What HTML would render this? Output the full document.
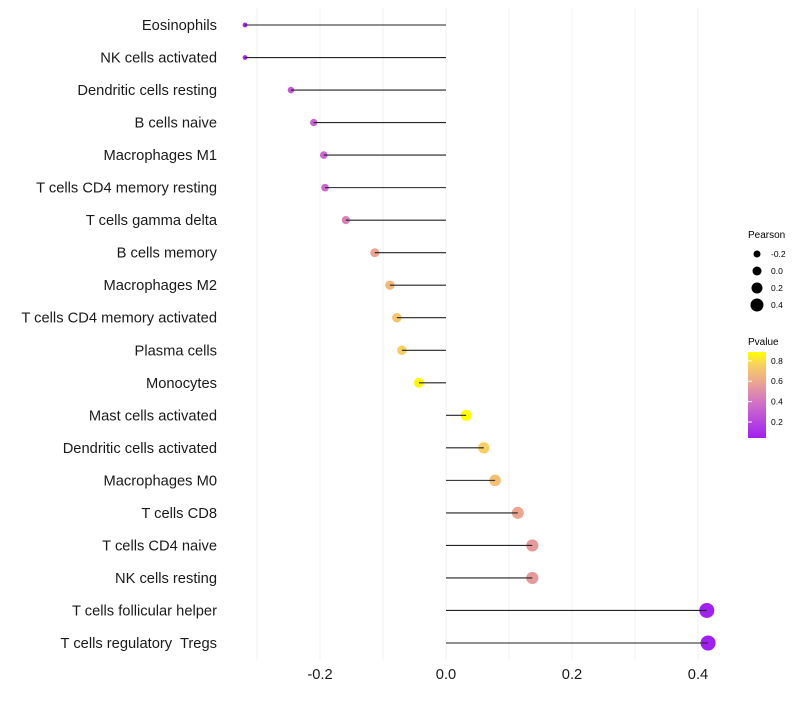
<!DOCTYPE html>
<html><head><meta charset="utf-8"><style>
body{margin:0;background:#fff;font-family:"Liberation Sans",sans-serif}
svg text{font-family:"Liberation Sans",sans-serif;white-space:pre}
</style></head><body>
<svg id="chart" width="800" height="700">
<defs><linearGradient id="pg" x1="0" y1="1" x2="0" y2="0">
<stop offset="0" stop-color="#A020F0"/><stop offset="0.4" stop-color="#D070C8"/><stop offset="0.65" stop-color="#EBA590"/><stop offset="0.85" stop-color="#F7D060"/><stop offset="1" stop-color="#FFFF00"/></linearGradient></defs>
<g id="grid"></g>
<g id="marks"></g>
<g id="labels"></g>
<g id="xt"></g>
<g id="lp">
<text x="748" y="238" font-size="10">Pearson</text></g>
<g id="lv">
<text x="748" y="345" font-size="10">Pvalue</text>
<rect x="748" y="352" width="18" height="86" fill="url(#pg)"/></g>
</svg>
<script>
const categories=["Eosinophils","NK cells activated","Dendritic cells resting","B cells naive","Macrophages M1","T cells CD4 memory resting","T cells gamma delta","B cells memory","Macrophages M2","T cells CD4 memory activated","Plasma cells","Monocytes","Mast cells activated","Dendritic cells activated","Macrophages M0","T cells CD8","T cells CD4 naive","NK cells resting","T cells follicular helper","T cells regulatory  Tregs"];
const pearson=[-0.319,-0.319,-0.246,-0.210,-0.194,-0.192,-0.159,-0.113,-0.089,-0.078,-0.070,-0.043,0.032,0.060,0.078,0.114,0.137,0.137,0.414,0.416];
const pvalues=[0.08,0.08,0.3,0.34,0.36,0.36,0.47,0.62,0.7,0.76,0.79,0.88,0.9,0.79,0.73,0.62,0.58,0.58,0.05,0.05];
const xTicks=[-0.2,0,0.2,0.4];
const xTickLabels=["-0.2","0.0","0.2","0.4"];
const gridVals=[-0.3,-0.2,-0.1,0,0.1,0.2,0.3,0.4,0.5];
const sizeLegend=[-0.2,0,0.2,0.4];
const pLegend=[0.2,0.4,0.6,0.8];
const NS="http://www.w3.org/2000/svg";
const x=v=>446+v*630;
const y=i=>25+i*(618/19);
const r=p=>Math.sqrt(Math.max(2.5,27.8+69*p));
const stops=[[0.05,[160,32,240]],[0.4,[208,112,200]],[0.62,[235,165,144]],[0.8,[247,208,96]],[0.9,[255,255,0]]];
function col(p){if(p<=stops[0][0])return"rgb("+stops[0][1]+")";for(let k=1;k<stops.length;k++){if(p<=stops[k][0]){const a=stops[k-1],b=stops[k],t=(p-a[0])/(b[0]-a[0]);return"rgb("+a[1].map((c,j)=>Math.round(c+(b[1][j]-c)*t)).join(",")+")";}}return"rgb(255,255,0)";}
function mk(t,a,parent){const e=document.createElementNS(NS,t);for(const k in a)e.setAttribute(k,a[k]);parent.appendChild(e);return e;}
const G=document.getElementById("grid"),M=document.getElementById("marks"),L=document.getElementById("labels"),XT=document.getElementById("xt");
gridVals.forEach(v=>{const px=x(v);if(px<230||px>740)return;const l=mk("line",{x1:px,x2:px,y1:8,y2:660,stroke:"#f0f0f0","stroke-width":1},G);

});
categories.forEach((c,i)=>{
const yy=y(i);
const pt=mk("circle",{cx:x(pearson[i]),cy:yy,r:r(pearson[i]),fill:col(pvalues[i])},M);


const ln=mk("line",{x1:x(0),x2:x(pearson[i]),y1:yy,y2:yy,stroke:"#222","stroke-width":1.1},M);


const t=mk("text",{x:217,y:yy+5,"text-anchor":"end","font-size":14.7,fill:"#1a1a1a"},L);t.textContent=c;


});
xTicks.forEach((v,i)=>{const t=mk("text",{x:x(v),y:679,"text-anchor":"middle","font-size":14.7,fill:"#1a1a1a"},XT);t.textContent=xTickLabels[i];

});
const LP=document.getElementById("lp");
const lr=[3.5,4.5,5.5,6.5];
sizeLegend.forEach((v,i)=>{const yy=254+i*17;const c=mk("circle",{cx:757,cy:yy,r:lr[i],fill:"#000"},LP);


const t=mk("text",{x:771,y:yy+3,"font-size":8.5},LP);t.textContent=v.toFixed(1);

});
const LV=document.getElementById("lv");
pLegend.forEach(v=>{const yy=422-(v-0.2)*102;
const tk=mk("line",{x1:748,x2:752,y1:yy,y2:yy,stroke:"#fff"},LV);


const t=mk("text",{x:771,y:yy+3,"font-size":8.5},LV);t.textContent=v.toFixed(1);

});
</script>
</body></html>
